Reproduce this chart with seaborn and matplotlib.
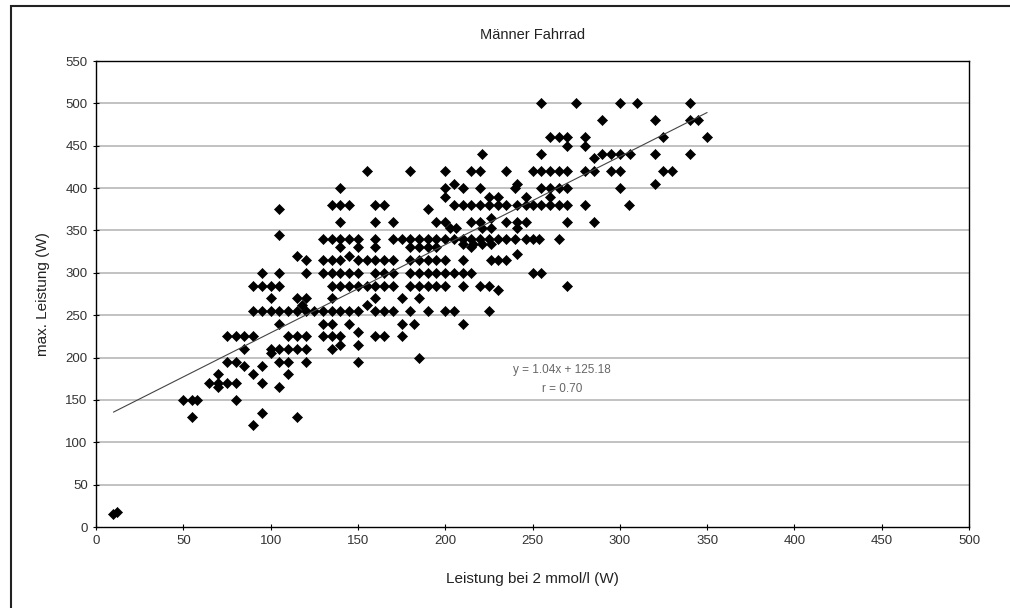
import numpy as np
import pandas as pd
import matplotlib
matplotlib.use("Agg")
import matplotlib.pyplot as plt
import seaborn as sns
from matplotlib.patches import Rectangle

# ---- data: max. Leistung (W) levels and the Leistung bei 2 mmol/l (W) values at each level ----
y_levels = [500, 480, 460, 450, 440, 435, 420, 405, 400, 390, 380, 375, 365, 360, 353, 345,
            340, 334, 330, 322, 320, 315, 300, 285, 280, 270, 262, 255, 240, 230, 225, 215,
            210, 205, 200, 195, 190, 180, 170, 165, 150, 135, 130, 120, 18, 15]
x_500 = [255, 275, 300, 310, 340]
x_480 = [290, 320, 340, 345]
x_460 = [260, 265, 270, 280, 325, 350]
x_450 = [270, 280]
x_440 = [221, 255, 290, 295, 300, 306, 320, 340]
x_435 = [285]
x_420 = [155, 180, 200, 215, 220, 235, 250, 255, 260, 265, 270, 280, 285, 295, 300, 325, 330]
x_405 = [205, 241, 320]
x_400 = [140, 200, 210, 220, 240, 255, 260, 265, 270, 300]
x_390 = [200, 225, 230, 246, 260]
x_380 = [135, 140, 145, 160, 165, 205, 210, 215, 220, 225, 230, 235, 241, 246, 250, 255, 260,
         265, 270, 280, 305]
x_375 = [105, 190]
x_365 = [226]
x_360 = [140, 160, 170, 195, 200, 215, 220, 235, 241, 246, 270, 285]
x_353 = [203, 206, 221, 226, 241]
x_345 = [105]
x_340 = [130, 135, 140, 145, 150, 160, 170, 175, 180, 185, 190, 195, 200, 205, 210, 215, 220,
         225, 230, 235, 240, 246, 250, 254, 265]
x_334 = [210, 216, 221, 226]
x_330 = [140, 150, 160, 180, 185, 190, 195, 215]
x_322 = [241]
x_320 = [115, 145]
x_315 = [120, 130, 135, 140, 150, 155, 160, 165, 170, 180, 185, 190, 195, 200, 210, 226, 230, 235]
x_300 = [95, 105, 120, 130, 135, 140, 145, 150, 160, 165, 170, 180, 185, 190, 195, 200, 205,
         210, 215, 250, 255]
x_285 = [90, 95, 100, 105, 135, 140, 145, 150, 155, 160, 165, 170, 180, 185, 190, 195, 200,
         210, 220, 225, 270]
x_280 = [230]
x_270 = [100, 115, 120, 135, 160, 175, 185]
x_262 = [118, 155]
x_255 = [90, 95, 100, 105, 110, 115, 120, 125, 130, 135, 140, 145, 150, 160, 165, 170, 180,
         190, 200, 205, 225]
x_240 = [105, 130, 135, 145, 175, 182, 210]
x_230 = [150]
x_225 = [75, 80, 85, 90, 110, 115, 120, 130, 135, 140, 160, 165, 175]
x_215 = [140, 150]
x_210 = [85, 100, 105, 110, 115, 120, 135]
x_205 = [100]
x_200 = [185]
x_195 = [75, 80, 105, 110, 120, 150]
x_190 = [85, 95]
x_180 = [70, 90, 110]
x_170 = [65, 70, 75, 80, 95]
x_165 = [70, 105]
x_150 = [50, 55, 58, 80]
x_135 = [95]
x_130 = [55, 115]
x_120 = [90]
x_18 = [12]
x_15 = [10]

x_groups = [x_500, x_480, x_460, x_450, x_440, x_435, x_420, x_405, x_400, x_390, x_380, x_375,
            x_365, x_360, x_353, x_345, x_340, x_334, x_330, x_322, x_320, x_315, x_300, x_285,
            x_280, x_270, x_262, x_255, x_240, x_230, x_225, x_215, x_210, x_205, x_200, x_195,
            x_190, x_180, x_170, x_165, x_150, x_135, x_130, x_120, x_18, x_15]

# regression reported in the chart
slope = 1.04
intercept = 125.18
r_value = 0.70

x_ticks = [0, 50, 100, 150, 200, 250, 300, 350, 400, 450, 500]
y_ticks = [0, 50, 100, 150, 200, 250, 300, 350, 400, 450, 500, 550]

title = "Männer Fahrrad"
x_label = "Leistung bei 2 mmol/l (W)"
y_label = "max. Leistung (W)"

# ---- build table ----
xs, ys = [], []
for yl, grp in zip(y_levels, x_groups):
    for xv in grp:
        xs.append(xv)
        ys.append(yl)
df = pd.DataFrame({"x": xs, "y": ys})

sns.set_theme(style="white")
plt.rcParams["font.family"] = ["Liberation Sans", "DejaVu Sans"]

fig = plt.figure(figsize=(10.10, 6.08), dpi=100)
ax = fig.add_axes([96 / 1010, 1 - 527 / 608, (969 - 96) / 1010, (527 - 61) / 608])

for yt in y_ticks[1:-1]:
    ax.axhline(yt, color="#b8b8b8", lw=1.2, zorder=0)

sns.scatterplot(data=df, x="x", y="y", marker="D", s=26, color="black",
                edgecolor="black", linewidth=0.5, ax=ax, zorder=3)

x_line = np.array([df["x"].min(), df["x"].max()])
ax.plot(x_line, slope * x_line + intercept, color="#444444", lw=0.8, zorder=4)

ax.text(267, 185, f"y = {slope:.2f}x + {intercept:.2f}", ha="center", va="center",
        fontsize=8.5, color="#666666")
ax.text(267, 163, f"r = {r_value:.2f}", ha="center", va="center", fontsize=8.5, color="#666666")

ax.set_xlim(0, 500)
ax.set_ylim(0, 550)
ax.set_xticks(x_ticks)
ax.set_yticks(y_ticks)
ax.tick_params(axis="both", direction="inout", length=5, width=0.8, colors="black",
               labelsize=9.5, labelcolor="#333333", bottom=True, left=True)
for s in ax.spines.values():
    s.set_color("black")
    s.set_linewidth(1.0)

ax.set_title(title, fontsize=10.5, color="#222222", pad=16)
ax.set_xlabel(x_label, fontsize=11, color="#222222", labelpad=18)
ax.set_ylabel(y_label, fontsize=11, color="#222222", labelpad=11)

fig.patches.append(Rectangle((11 / 1010, -0.1), 1.2, 1.1 - 6 / 608, fill=False,
                             edgecolor="#222222", lw=1.5, transform=fig.transFigure))

fig.savefig("out.png", dpi=100)
